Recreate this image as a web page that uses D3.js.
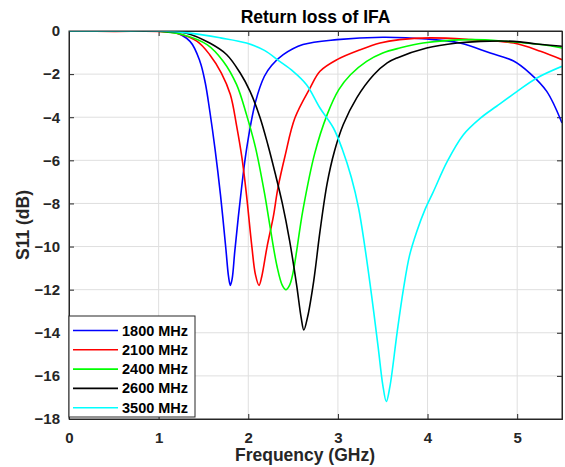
<!DOCTYPE html>
<html>
<head>
<meta charset="utf-8">
<script src="https://cdn.jsdelivr.net/npm/d3@7"></script>
<style>
  body { margin: 0; background: #fff; }
  svg text { font-family: "Liberation Sans", Arial, sans-serif; font-weight: bold; fill: #262626; }
</style>
</head>
<body>
<div id="chart"></div>
<script>
// Frequency (GHz) / S11 (dB) samples
const seriesNames = ['1800 MHz', '2100 MHz', '2400 MHz', '2600 MHz', '3500 MHz'];
const seriesColors = ['#0000ff', '#ff0000', '#00ff00', '#000000', '#00ffff'];

const s1800 = [[0,0],[0.5,0],[1.0,-0.01],[1.16,-0.03],[1.35,-0.48],[1.46,-1.4],[1.52,-2.4],[1.57,-3.7],
  [1.63,-5.5],[1.69,-7.6],[1.75,-10.1],[1.78,-11.4],[1.80,-11.8],[1.82,-11.5],[1.85,-10.2],[1.91,-7.84],
  [1.98,-5.5],[2.08,-3.3],[2.18,-2.1],[2.26,-1.6],[2.39,-1.1],[2.61,-0.63],[2.99,-0.4],[3.5,-0.29],
  [3.99,-0.37],[4.36,-0.56],[4.70,-1.02],[4.96,-1.39],[5.14,-1.95],[5.33,-2.8],[5.5,-4.27]];
const s2100 = [[0,0],[0.5,-0.02],[1.0,-0.02],[1.2,-0.1],[1.43,-0.48],[1.57,-1.1],[1.70,-1.95],[1.80,-2.95],
  [1.87,-4.4],[1.93,-5.9],[1.98,-7.6],[2.04,-10.0],[2.08,-11.3],[2.12,-11.8],[2.15,-11.4],[2.21,-10.0],
  [2.28,-8.6],[2.33,-7.3],[2.41,-5.8],[2.52,-4.04],[2.69,-2.64],[2.80,-1.87],[2.99,-1.33],[3.25,-0.87],
  [3.47,-0.56],[3.69,-0.4],[4.03,-0.32],[4.48,-0.4],[4.96,-0.56],[5.26,-0.94],[5.5,-1.33]];
const s2400 = [[0,0],[0.5,0],[1.0,-0.01],[1.27,-0.17],[1.54,-0.63],[1.72,-1.4],[1.87,-2.49],[1.98,-3.88],
  [2.08,-5.4],[2.18,-7.5],[2.24,-9.0],[2.32,-10.9],[2.38,-11.8],[2.42,-12.0],[2.46,-11.8],[2.50,-11.2],
  [2.61,-8.3],[2.74,-5.7],[2.88,-3.88],[3.01,-2.72],[3.14,-2.03],[3.32,-1.41],[3.50,-1.02],[3.69,-0.79],
  [3.95,-0.56],[4.48,-0.4],[4.88,-0.48],[5.26,-0.63],[5.5,-0.79]];
const s2600 = [[0,0],[0.5,0],[1.0,-0.01],[1.31,-0.1],[1.57,-0.56],[1.76,-1.1],[1.91,-1.95],[2.02,-2.8],
  [2.13,-4.0],[2.22,-5.3],[2.30,-6.6],[2.38,-8.0],[2.46,-9.7],[2.54,-11.8],[2.59,-13.3],[2.62,-13.87],
  [2.66,-13.3],[2.73,-11.6],[2.80,-9.3],[2.88,-7.07],[2.96,-5.6],[3.06,-4.34],[3.21,-3.1],[3.40,-2.03],
  [3.55,-1.48],[3.66,-1.25],[3.99,-0.79],[4.33,-0.56],[4.59,-0.48],[4.96,-0.48],[5.22,-0.6],[5.5,-0.71]];
const s3500 = [[0,0],[0.5,0],[1.0,0],[1.35,-0.1],[1.69,-0.32],[1.98,-0.56],[2.18,-0.9],[2.35,-1.41],
  [2.50,-1.87],[2.65,-2.49],[2.80,-3.57],[2.95,-4.5],[3.05,-5.5],[3.15,-6.8],[3.23,-8.2],[3.30,-10.0],
  [3.38,-12.4],[3.45,-14.7],[3.50,-16.4],[3.54,-17.19],[3.58,-16.5],[3.66,-14.0],[3.73,-12.0],[3.80,-10.4],
  [3.88,-9.3],[3.97,-8.3],[4.06,-7.5],[4.22,-6.05],[4.40,-4.81],[4.59,-4.04],[4.77,-3.49],[5.0,-2.8],
  [5.22,-2.18],[5.5,-1.64]];
const seriesData = [s1800, s2100, s2400, s2600, s3500];

const xTicks = [0, 1, 2, 3, 4, 5];
const yTicks = [0, -2, -4, -6, -8, -10, -12, -14, -16, -18];

const W = 565, H = 467;
const margin = { top: 31, right: 3, bottom: 48, left: 69 };
const width = W - margin.left - margin.right;
const height = H - margin.top - margin.bottom;

const svg = d3.select('#chart').append('svg')
    .attr('width', W)
    .attr('height', H);

const g = svg.append('g')
    .attr('transform', `translate(${margin.left},${margin.top})`);

const x = d3.scaleLinear().domain([0, 5.5]).range([0, width]);
const y = d3.scaleLinear().domain([-18, 0]).range([height, 0]);

// grid
g.append('g')
    .selectAll('line')
    .data(xTicks.slice(1))
    .enter().append('line')
    .attr('x1', d => x(d)).attr('x2', d => x(d))
    .attr('y1', 0).attr('y2', height)
    .attr('stroke', '#dfdfdf').attr('stroke-width', 1);
g.append('g')
    .selectAll('line')
    .data(yTicks.slice(1, -1))
    .enter().append('line')
    .attr('x1', 0).attr('x2', width)
    .attr('y1', d => y(d)).attr('y2', d => y(d))
    .attr('stroke', '#dfdfdf').attr('stroke-width', 1);

// axes, ticks inward
const xAxis = d3.axisBottom(x).tickValues(xTicks).tickSize(-5).tickPadding(13).tickFormat(d3.format('d'));
const yAxis = d3.axisLeft(y).tickValues(yTicks).tickSize(-5).tickPadding(9).tickFormat(d3.format('d'));

const gx = g.append('g').attr('transform', `translate(0,${height})`).call(xAxis);
const gy = g.append('g').call(yAxis);
g.append('g').call(d3.axisTop(x).tickValues(xTicks).tickSize(-5).tickFormat(''));
g.append('g').attr('transform', `translate(${width},0)`).call(d3.axisRight(y).tickValues(yTicks).tickSize(-5).tickFormat(''));

g.selectAll('.domain').attr('stroke', '#262626');
g.selectAll('.tick line').attr('stroke', '#262626');
gx.selectAll('text').style('font-size', '15px').attr('dy', '0.71em');
gy.selectAll('text').style('font-size', '15px');

// lines
const line = d3.line()
    .x(d => x(d[0]))
    .y(d => y(d[1]))
    .curve(d3.curveCatmullRom.alpha(0.5));

g.append('defs').append('clipPath').attr('id', 'clip')
  .append('rect').attr('width', width).attr('height', height);

g.append('g').attr('clip-path', 'url(#clip)')
  .selectAll('path')
  .data(seriesData)
  .enter().append('path')
  .attr('d', line)
  .attr('fill', 'none')
  .attr('stroke', (d, i) => seriesColors[i])
  .attr('stroke-width', 1.6);

// box
g.append('rect').attr('width', width).attr('height', height)
  .attr('fill', 'none').attr('stroke', '#262626').attr('stroke-width', 1);

// title and labels
svg.append('text').attr('x', margin.left + width / 2).attr('y', 23)
  .attr('text-anchor', 'middle').style('font-size', '17.5px').style('fill', '#000')
  .text('Return loss of IFA');
svg.append('text').attr('x', 305).attr('y', 461)
  .attr('text-anchor', 'middle').style('font-size', '17.5px')
  .text('Frequency (GHz)');
svg.append('text').attr('transform', `translate(29,${margin.top + height / 2}) rotate(-90)`)
  .attr('text-anchor', 'middle').style('font-size', '17.5px')
  .text('S11 (dB)');

// legend
const legend = svg.append('g').attr('transform', 'translate(69,316)');
legend.append('rect').attr('width', 126).attr('height', 101)
  .attr('fill', '#fff').attr('stroke', '#262626').attr('stroke-width', 1);
const items = legend.selectAll('g')
  .data(seriesNames)
  .enter().append('g')
  .attr('transform', (d, i) => `translate(0,${14.5 + i * 19.3})`);
items.append('line')
  .attr('x1', 4).attr('x2', 49)
  .attr('stroke', (d, i) => seriesColors[i]).attr('stroke-width', 1.6);
items.append('text')
  .attr('x', 53).attr('dy', '0.35em')
  .style('font-size', '14.5px').style('fill', '#000')
  .text(d => d);
</script>
</body>
</html>
